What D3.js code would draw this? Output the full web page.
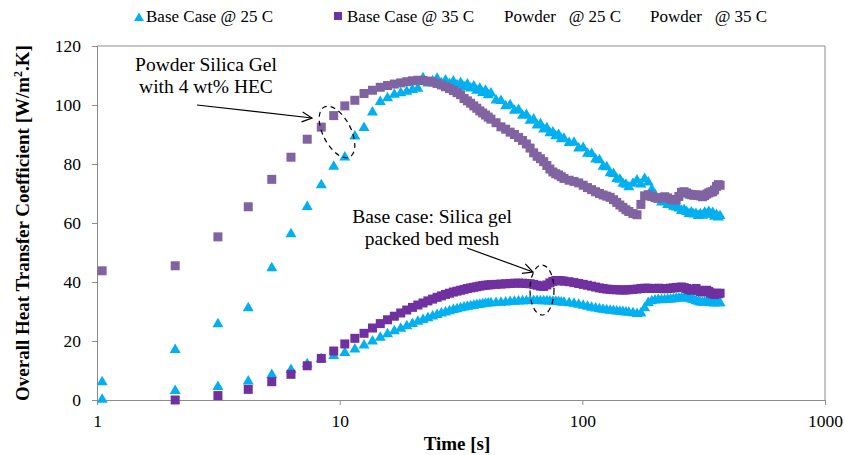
<!DOCTYPE html>
<html lang="en">
<head>
    <meta charset="UTF-8">
    <title>Overall heat transfer coefficient</title>
    <script src="https://cdnjs.cloudflare.com/ajax/libs/d3/7.8.5/d3.min.js"></script>
    <style>
        body { margin: 0; background: #fff; }
        text { font-family: "Liberation Serif", "Times New Roman", serif; fill: #000; }
    </style>
</head>
<body>
<script>
// sample times [s]
var times = [1.05, 2.1, 3.15, 4.2, 5.25, 6.3, 7.35, 8.4, 9.45, 10.5, 11.55, 12.6, 13.65, 14.7, 15.75, 16.8, 17.85, 18.9, 19.95, 21,
    22.05, 23.1, 24.15, 25.2, 26.25, 27.3, 28.35, 29.4, 30.45, 31.5, 32.55, 33.6, 34.65, 35.7, 36.75, 37.8, 38.85, 39.9, 40.95, 42,
    44.1, 46.2, 48.3, 50.4, 52.5, 54.6, 56.7, 58.8, 60.9, 63, 65.1, 67.2, 69.3, 71.4, 73.5, 75.6, 77.7, 79.8, 81.9, 84,
    88.2, 92.4, 96.6, 100.8, 105, 109.2, 113.4, 117.6, 121.8, 126, 130.2, 134.4, 138.6, 142.8, 147, 151.2, 155.4,
    161.7, 168, 174.3, 180.6, 186.9, 193.2, 199.5, 205.8, 212.1, 218.4, 224.7, 231, 237.3, 243.6, 249.9, 256.2, 262.5, 268.8,
    275.1, 281.4, 287.7, 294, 300.3, 306.6, 312.9, 319.2, 325.5, 331.8, 338.1, 344.4, 350.7, 357, 363.3, 369.6];

var base25 = [0.6, 3.6, 4.9, 6.8, 9.0, 10.7, 12.6, 14.4, 15.4, 16.4, 17.6, 19.0, 20.3, 21.6, 22.8, 23.8, 24.7, 25.5, 26.3, 27.0,
    27.6, 28.2, 28.8, 29.3, 29.8, 30.2, 30.6, 31.0, 31.3, 31.6, 31.9, 32.1, 32.3, 32.5, 32.7, 32.8, 33.0, 33.1, 33.2, 33.3,
    33.4, 33.5, 33.6, 33.7, 33.8, 33.9, 34.0, 34.0, 34.1, 34.1, 34.1, 34.0, 34.0, 34.0, 33.9, 33.8, 33.8, 33.7, 33.6, 33.5,
    33.3, 33.1, 32.8, 32.5, 32.1, 31.8, 31.5, 31.3, 31.1, 30.9, 30.8, 30.7, 30.5, 30.4, 30.3, 30.2, 30.1,
    29.9, 29.7, 29.8, 31.6, 33.4, 34.0, 34.2, 34.4, 34.3, 34.4, 34.5, 34.6, 34.7, 34.8, 34.9, 35.0, 35.1, 35.0,
    34.8, 34.6, 34.4, 34.1, 33.8, 33.6, 33.5, 33.6, 33.8, 33.5, 33.3, 33.4, 33.2, 33.4, 33.3, 33.3];

var base35 = [null, 0.0, 1.5, 3.6, 6.2, 8.7, 11.6, 14.1, 16.6, 19.0, 20.9, 22.6, 24.4, 25.9, 27.2, 28.4, 29.5, 30.5, 31.4, 32.2,
    32.9, 33.6, 34.2, 34.8, 35.3, 35.8, 36.2, 36.6, 36.9, 37.2, 37.5, 37.8, 38.0, 38.2, 38.4, 38.6, 38.8, 38.9, 39.0, 39.1,
    39.2, 39.3, 39.4, 39.5, 39.6, 39.6, 39.6, 39.5, 39.4, 39.2, 38.9, 38.6, 38.5, 39.0, 39.7, 40.2, 40.5, 40.5, 40.4, 40.3,
    40.1, 39.8, 39.5, 39.2, 38.9, 38.6, 38.3, 38.0, 37.8, 37.6, 37.5, 37.4, 37.4, 37.3, 37.3, 37.3, 37.4,
    37.5, 37.6, 37.8, 37.9, 37.9, 37.8, 37.8, 37.9, 37.8, 37.7, 37.8, 37.9, 38.0, 38.1, 38.2, 38.3, 38.1, 37.8,
    37.4, 37.2, 37.5, 37.8, 37.2, 36.8, 36.6, 36.9, 37.2, 36.8, 36.3, 36.0, 35.8, 36.2, 36.0, 36.2];

var powder25 = [6.5, 17.5, 26.2, 31.6, 45.2, 56.7, 65.9, 73.3, 79.6, 82.7, 89.8, 92.7, 98.0, 101.5, 102.8, 104.0, 104.5, 105.0, 105.6, 106.0,
    109.6, 107.8, 108.6, 109.4, 107.9, 108.8, 107.6, 108.5, 107.2, 107.9, 106.6, 107.5, 106.1, 106.8, 105.3, 106.0, 104.6, 105.3, 103.8, 104.4,
    102.0, 101.9, 100.1, 100.4, 98.6, 98.8, 96.9, 97.1, 95.2, 95.6, 93.6, 94.0, 92.2, 92.6, 90.9, 91.2, 89.9, 90.3, 88.9, 89.1,
    87.6, 87.7, 85.8, 85.9, 84.0, 83.9, 82.0, 81.8, 79.6, 79.4, 77.4, 77.1, 75.4, 75.2, 73.8, 73.5, 72.6,
    73.8, 74.9, 73.6, 75.4, 74.2, 71.8, 70.0, 68.4, 67.5, 67.8, 66.6, 67.0, 66.0, 65.8, 65.4, 64.6, 64.9, 64.2,
    63.6, 64.1, 63.4, 63.6, 62.9, 63.5, 63.0, 64.0, 63.3, 64.2, 63.4, 63.9, 62.6, 63.2, 62.4, 62.8];

var powder35 = [43.8, 45.5, 55.3, 65.5, 74.8, 82.3, 88.4, 92.5, 96.4, 99.7, 101.6, 103.9, 105.0, 106.0, 106.6, 107.1, 107.5, 107.9, 108.2, 108.4,
    108.3, 108.1, 107.8, 107.3, 106.8, 106.2, 105.6, 104.9, 104.2, 103.5, 102.2, 101.4, 100.6, 99.7, 98.9, 98.0, 97.3, 96.6, 95.9, 95.2,
    94.0, 92.6, 91.8, 90.8, 90.0, 89.0, 88.0, 86.8, 85.4, 83.8, 82.6, 81.8, 80.8, 79.5, 78.3, 77.3, 76.7, 76.3, 75.7, 75.1,
    74.5, 74.1, 73.6, 72.8, 72.0, 71.3, 70.6, 70.0, 69.5, 69.1, 68.7, 67.9, 67.0, 66.1, 65.3, 64.5, 63.9,
    63.2, 62.8, 66.3, 69.2, 69.6, 69.0, 68.6, 68.4, 68.6, 68.9, 68.5, 68.0, 67.8, 67.9, 69.0, 70.4, 70.6, 70.2,
    69.8, 69.6, 69.4, 69.5, 69.5, 69.2, 68.9, 69.3, 69.8, 70.2, 70.5, 70.6, 71.2, 72.4, 73.0, 72.8];

var xTicks = [1, 10, 100, 1000];
var yTicks = [0, 20, 40, 60, 80, 100, 120];
var legendLabels = ["Base Case @ 25 C", "Base Case @ 35 C", "Powder   @ 25 C", "Powder   @ 35 C"];

var width = 845, height = 455;
var margin = {top: 46, right: 20, bottom: 55, left: 97};

var svg = d3.select("body").append("svg")
        .attr("width", width)
        .attr("height", height);

var x = d3.scaleLog().domain([1, 1000]).range([margin.left, width - margin.right]);
var y = d3.scaleLinear().domain([0, 120]).range([height - margin.bottom, margin.top]);

var axisColor = "#8c8c8c";

// plot frame (top and right)
svg.append("path")
        .attr("d", "M" + x(1) + "," + y(120) + "H" + x(1000) + "V" + y(0))
        .attr("fill", "none")
        .attr("stroke", axisColor);

var xAxis = svg.append("g")
        .attr("transform", "translate(0," + y(0) + ")")
        .call(d3.axisBottom(x).tickValues(xTicks).tickFormat(d3.format("d")).tickSize(5).tickPadding(10));
var yAxis = svg.append("g")
        .attr("transform", "translate(" + x(1) + ",0)")
        .call(d3.axisLeft(y).tickValues(yTicks).tickSize(5).tickPadding(11));

[xAxis, yAxis].forEach(function(a) {
    a.selectAll("path, line").attr("stroke", axisColor);
    a.selectAll("text").style("font-size", "17.5px").attr("fill", "#000");
});

// axis titles
svg.append("text")
        .attr("x", 457).attr("y", 450)
        .attr("text-anchor", "middle")
        .style("font-size", "19px").style("font-weight", "bold")
        .text("Time [s]");

var yTitle = svg.append("text")
        .attr("transform", "translate(29," + 223 + ") rotate(-90)")
        .attr("text-anchor", "middle")
        .style("font-size", "19px").style("font-weight", "bold");
yTitle.append("tspan").text("Overall Heat Transfer Coefficient [W/m");
yTitle.append("tspan").attr("dy", -7).style("font-size", "12px").text("2");
yTitle.append("tspan").attr("dy", 7).text(".K]");

// markers
function triPath(s) {
    return "M0," + (-s * 0.5) + "L" + (s * 0.55) + "," + (s * 0.45) + "L" + (-s * 0.55) + "," + (s * 0.45) + "Z";
}

var series = [
    {values: base25, color: "#00b0f0", shape: "tri"},
    {values: base35, color: "#7030a0", shape: "sq"},
    {values: powder25, color: "#00b0f0", shape: "tri"},
    {values: powder35, color: "#8064a2", shape: "sq"}
];

series.forEach(function(s) {
    var pts = times.map(function(t, i) { return {t: t, v: s.values[i]}; })
            .filter(function(d) { return d.v !== null; });
    var g = svg.append("g");
    if (s.shape === "tri") {
        g.selectAll("path").data(pts).enter().append("path")
                .attr("d", triPath(10))
                .attr("transform", function(d) { return "translate(" + x(d.t) + "," + y(d.v) + ")"; })
                .attr("fill", s.color);
    } else {
        g.selectAll("rect").data(pts).enter().append("rect")
                .attr("x", function(d) { return x(d.t) - 4.5; })
                .attr("y", function(d) { return y(d.v) - 4.5; })
                .attr("width", 9).attr("height", 9)
                .attr("fill", s.color);
    }
});

// legend
var legendX = [146, 347, 504, 650];
var legend = svg.append("g");
legendLabels.forEach(function(l, i) {
    legend.append("text")
            .attr("x", legendX[i]).attr("y", 22)
            .attr("xml:space", "preserve")
            .style("white-space", "pre")
            .style("font-size", "17px")
            .text(l);
});
legend.append("path").attr("d", triPath(9)).attr("transform", "translate(139,17)").attr("fill", "#00b0f0");
legend.append("rect").attr("x", 334).attr("y", 12).attr("width", 8).attr("height", 8).attr("fill", "#7030a0");

// annotations
svg.append("defs").append("marker")
        .attr("id", "arr")
        .attr("viewBox", "0 0 12 12")
        .attr("refX", 11).attr("refY", 6)
        .attr("markerWidth", 12).attr("markerHeight", 12)
        .attr("markerUnits", "userSpaceOnUse")
        .attr("orient", "auto")
        .append("path")
        .attr("d", "M1,1L11,6L1,11")
        .attr("fill", "none").attr("stroke", "#000").attr("stroke-width", 1.2);

function note(lines, cx, y0, gap) {
    lines.forEach(function(l, i) {
        svg.append("text")
                .attr("x", cx).attr("y", y0 + i * gap)
                .attr("text-anchor", "middle")
                .style("font-size", "19.5px")
                .text(l);
    });
}
note(["Powder Silica Gel", "with 4 wt% HEC"], 206, 71, 22);
note(["Base case: Silica gel", "packed bed mesh"], 432, 223, 21.5);

svg.append("line").attr("x1", 197).attr("y1", 105).attr("x2", 312).attr("y2", 118)
        .attr("stroke", "#000").attr("stroke-width", 1.2).attr("marker-end", "url(#arr)");
svg.append("line").attr("x1", 467).attr("y1", 248).attr("x2", 533).attr("y2", 272)
        .attr("stroke", "#000").attr("stroke-width", 1.2).attr("marker-end", "url(#arr)");

svg.append("ellipse")
        .attr("transform", "translate(337,132) rotate(-27)")
        .attr("rx", 14).attr("ry", 28)
        .attr("fill", "none").attr("stroke", "#000").attr("stroke-width", 1.2)
        .attr("stroke-dasharray", "5,4");
svg.append("ellipse")
        .attr("cx", 542).attr("cy", 290)
        .attr("rx", 12).attr("ry", 25)
        .attr("fill", "none").attr("stroke", "#000").attr("stroke-width", 1.2)
        .attr("stroke-dasharray", "5,4");
</script>
</body>
</html>
